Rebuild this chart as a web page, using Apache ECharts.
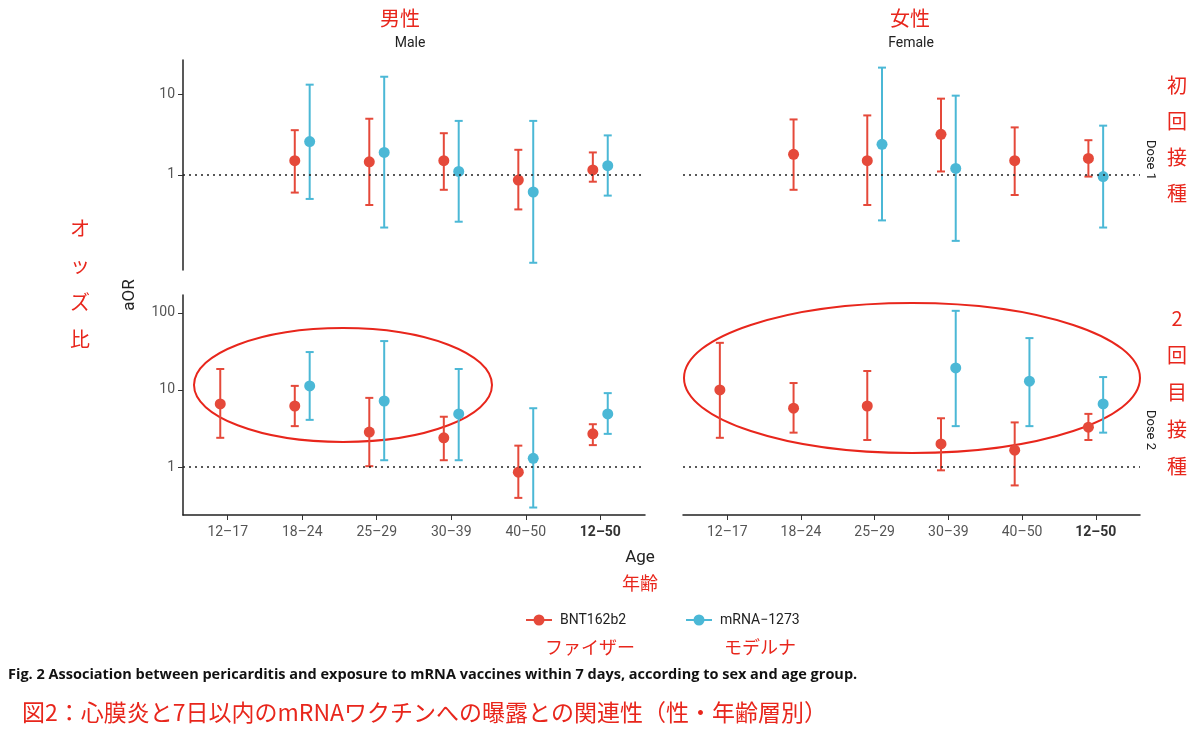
<!DOCTYPE html>
<html><head><meta charset="utf-8">
<script src="https://cdn.jsdelivr.net/npm/echarts@6/dist/echarts.min.js"></script>
<style>body{margin:0;background:#fff}#c{width:1200px;height:737px}</style>
</head><body><div id="c"></div>
<script>
var ages = ['12–17', '18–24', '25–29', '30–39', '40–50', '12–50'];
// [estimate, lower, upper] per age group, null = no estimate
var maleDose1Bnt  = [null, [1.5,0.6,3.6], [1.45,0.42,5], [1.5,0.65,3.3], [0.86,0.37,2.05], [1.15,0.82,1.9]];
var maleDose1Mrna = [null, [2.6,0.5,13.3], [1.9,0.22,16.7], [1.1,0.26,4.7], [0.61,0.08,4.7], [1.3,0.55,3.1]];
var femDose1Bnt   = [null, [1.8,0.65,4.9], [1.5,0.42,5.5], [3.2,1.1,8.9], [1.5,0.56,3.9], [1.6,0.95,2.7]];
var femDose1Mrna  = [null, null, [2.4,0.27,21.7], [1.2,0.15,9.7], null, [0.95,0.22,4.1]];
var maleDose2Bnt  = [[6.6,2.4,18.7], [6.2,3.4,11.3], [2.85,1.03,7.9], [2.4,1.23,4.5], [0.86,0.4,1.9], [2.7,1.93,3.6]];
var maleDose2Mrna = [null, [11.3,4.1,31], [7.2,1.23,43], [4.9,1.23,18.7], [1.3,0.3,5.8], [4.9,2.7,9.1]];
var femDose2Bnt   = [[10,2.4,40.8], [5.8,2.8,12.3], [6.2,2.25,17.6], [2.0,0.91,4.3], [1.66,0.58,3.8], [3.3,2.25,4.9]];
var femDose2Mrna  = [null, null, null, [19.3,3.4,106], [13,3.4,47], [6.6,2.8,14.7]];

var RED = '#e5493a', BLUE = '#4bb8d6', TRED = '#e8261c';

function rows(arr, off) {
  var out = [];
  arr.forEach(function (d, i) { if (d) out.push([i + off, d[0], d[1], d[2]]); });
  return out;
}
function errBar(color) {
  return function (params, api) {
    var x = api.value(0);
    var a = api.coord([x, api.value(2)]), b = api.coord([x, api.value(3)]);
    var s = { stroke: color, lineWidth: 2 };
    return { type: 'group', children: [
      { type: 'line', shape: { x1: a[0], y1: a[1], x2: b[0], y2: b[1] }, style: s },
      { type: 'line', shape: { x1: a[0] - 4, y1: a[1], x2: a[0] + 4, y2: a[1] }, style: s },
      { type: 'line', shape: { x1: b[0] - 4, y1: b[1], x2: b[0] + 4, y2: b[1] }, style: s }
    ] };
  };
}
var panels = [
  { bnt: maleDose1Bnt, mrna: maleDose1Mrna },
  { bnt: femDose1Bnt, mrna: femDose1Mrna },
  { bnt: maleDose2Bnt, mrna: maleDose2Mrna },
  { bnt: femDose2Bnt, mrna: femDose2Mrna }
];
var grids = [
  { left: 183, width: 462, top: 60, height: 210 },
  { left: 683, width: 457, top: 60, height: 210 },
  { left: 183, width: 462, top: 295, height: 220 },
  { left: 683, width: 457, top: 295, height: 220 }
];
var xAxes = [], yAxes = [], series = [];
grids.forEach(function (g, i) {
  var bottom = i >= 2;
  xAxes.push({
    type: 'value', gridIndex: i, min: -0.6, max: 5.6,
    splitLine: { show: false },
    axisLine: { show: bottom, onZero: false, lineStyle: { color: '#222', width: 1.5 } },
    axisTick: { show: bottom, customValues: [0, 1, 2, 3, 4, 5], length: 5, lineStyle: { color: '#333' } },
    axisLabel: {
      show: bottom, customValues: [0, 1, 2, 3, 4, 5], margin: 10,
      formatter: function (v) { return v === 5 ? '{b|' + ages[v] + '}' : ages[v]; },
      color: '#555', fontSize: 14, fontFamily: 'Roboto',
      rich: { b: { fontWeight: 'bold', color: '#333', fontSize: 14, fontFamily: 'Roboto' } }
    }
  });
  var left = i % 2 === 0;
  yAxes.push({
    type: 'log', gridIndex: i,
    min: bottom ? 0.24 : 0.065, max: bottom ? 170 : 27,
    splitLine: { show: false },
    axisLine: { show: left, onZero: false, lineStyle: { color: '#222', width: 1.5 } },
    axisTick: { show: left, customValues: bottom ? [1, 10, 100] : [1, 10], length: 5, lineStyle: { color: '#333' } },
    axisLabel: { show: left, customValues: bottom ? [1, 10, 100] : [1, 10], color: '#555', fontSize: 14, fontFamily: 'Roboto' }
  });
  var p = panels[i];
  series.push({
    type: 'line', xAxisIndex: i, yAxisIndex: i, data: [], silent: true,
    markLine: { symbol: 'none', silent: true, label: { show: false },
      lineStyle: { type: [2, 4], color: '#222', width: 1.5 }, data: [{ yAxis: 1 }] }
  });
  [[p.bnt, -0.1, RED], [p.mrna, 0.1, BLUE]].forEach(function (s) {
    var d = rows(s[0], s[1]);
    series.push({ type: 'custom', xAxisIndex: i, yAxisIndex: i, data: d, renderItem: errBar(s[2]), z: 2 });
    series.push({ type: 'scatter', xAxisIndex: i, yAxisIndex: i, data: d, symbolSize: 11,
      itemStyle: { color: s[2], opacity: 1 }, z: 3 });
  });
});

function t(x, y, text, opt) {
  var o = { type: 'text', x: x, y: y, style: Object.assign({ text: text, fill: TRED, fontSize: 20,
    fontFamily: 'Noto Sans CJK JP', align: 'center', verticalAlign: 'middle' }, opt || {}) };
  return o;
}
var graphics = [
  t(400, 18, '男性'), t(410, 43, 'Male', { fill: '#222', fontSize: 14, fontFamily: 'Roboto' }),
  t(910, 18, '女性'), t(911, 43, 'Female', { fill: '#222', fontSize: 14, fontFamily: 'Roboto' }),
  t(640, 558, 'Age', { fill: '#222', fontSize: 17, fontFamily: 'Roboto' }),
  t(640, 583, '年齢', { fontSize: 18 }),
  t(590, 647, 'ファイザー', { fontSize: 18 }), t(760, 647, 'モデルナ', { fontSize: 18 }),
  { type: 'text', x: 130, y: 295, rotation: Math.PI / 2,
    style: { text: 'aOR', fill: '#222', fontSize: 17, fontFamily: 'Roboto', align: 'center', verticalAlign: 'middle' } },
  { type: 'text', x: 1150, y: 160, rotation: -Math.PI / 2,
    style: { text: 'Dose 1', fill: '#222', fontSize: 13, fontFamily: 'Roboto', align: 'center', verticalAlign: 'middle' } },
  { type: 'text', x: 1150, y: 430, rotation: -Math.PI / 2,
    style: { text: 'Dose 2', fill: '#222', fontSize: 13, fontFamily: 'Roboto', align: 'center', verticalAlign: 'middle' } },
  { type: 'ellipse', shape: { cx: 343, cy: 385, rx: 149, ry: 57 }, style: { fill: 'none', stroke: TRED, lineWidth: 2 } },
  { type: 'ellipse', shape: { cx: 912, cy: 378, rx: 228, ry: 75 }, style: { fill: 'none', stroke: TRED, lineWidth: 2 } },
  { type: 'line', shape: { x1: 526, y1: 620, x2: 552, y2: 620 }, style: { stroke: RED, lineWidth: 2 } },
  { type: 'circle', shape: { cx: 539, cy: 620, r: 5.5 }, style: { fill: RED } },
  t(560, 620, 'BNT162b2', { fill: '#222', fontSize: 14, fontFamily: 'Roboto', align: 'left' }),
  { type: 'line', shape: { x1: 686, y1: 620, x2: 712, y2: 620 }, style: { stroke: BLUE, lineWidth: 2 } },
  { type: 'circle', shape: { cx: 699, cy: 620, r: 5.5 }, style: { fill: BLUE } },
  t(720, 620, 'mRNA−1273', { fill: '#222', fontSize: 14, fontFamily: 'Roboto', align: 'left' }),
  t(8, 675, 'Fig. 2 Association between pericarditis and exposure to mRNA vaccines within 7 days, according to sex and age group.',
    { fill: '#111', fontSize: 14.5, fontWeight: 'bold', fontFamily: 'Open Sans', align: 'left' }),
  t(22, 712, '図2：心膜炎と7日以内のmRNAワクチンへの曝露との関連性（性・年齢層別）', { fontSize: 23, align: 'left' })
];
['初', '回', '接', '種'].forEach(function (c, k) { graphics.push(t(1177, 85 + k * 36, c)); });
['2', '回', '目', '接', '種'].forEach(function (c, k) { graphics.push(t(1177, 318 + k * 37, c)); });
['オ', 'ッ', 'ズ', '比'].forEach(function (c, k) { graphics.push(t(80, 228 + k * 37, c)); });

var chart = echarts.init(document.getElementById('c'));
chart.setOption({
  animation: false,
  grid: grids, xAxis: xAxes, yAxis: yAxes, series: series, graphic: graphics
});
</script></body></html>
